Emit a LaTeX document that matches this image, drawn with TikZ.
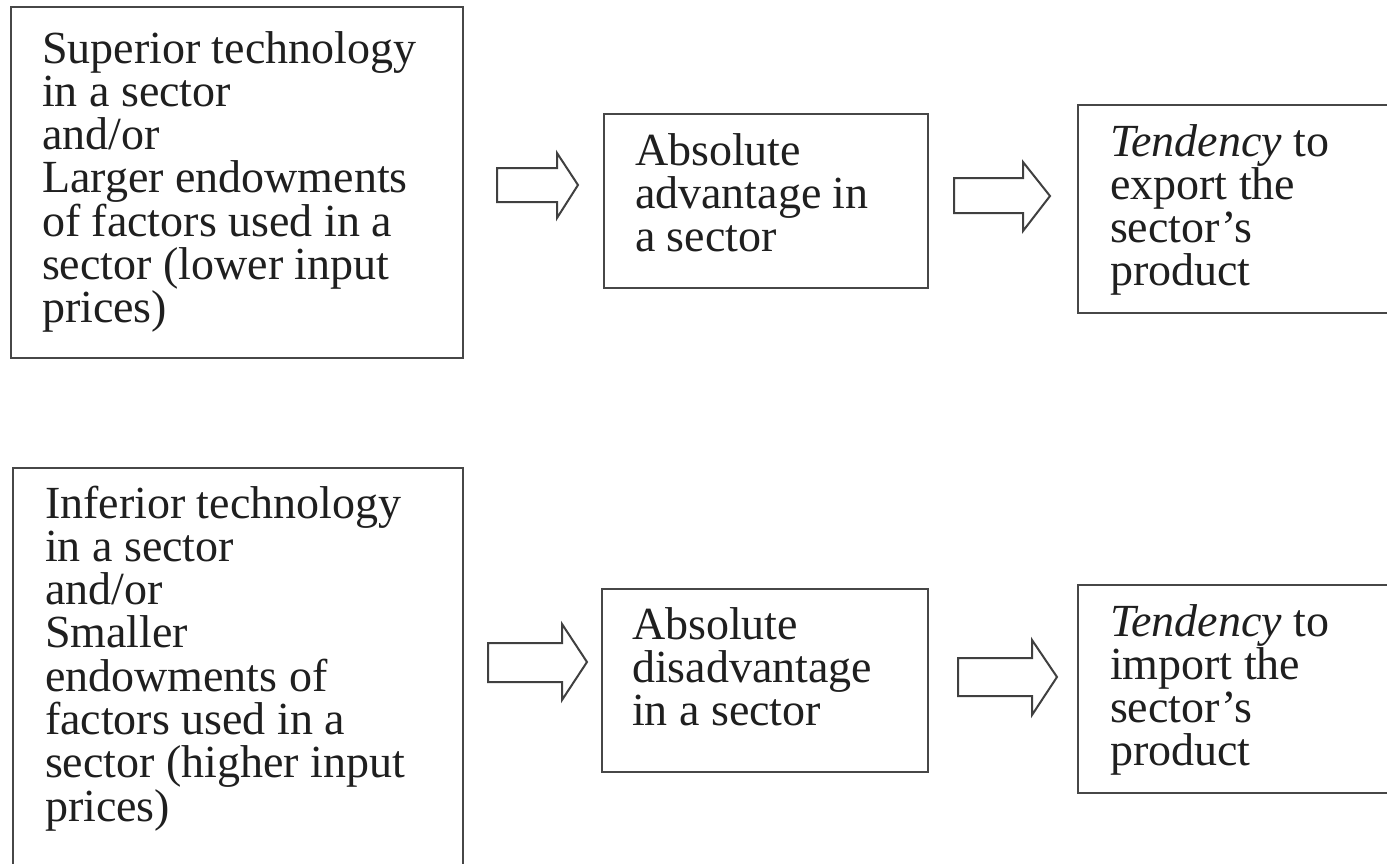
\documentclass[tikz,border=0pt]{standalone}
\usepackage{fontspec}
\setmainfont{Liberation Serif}
\newcommand{\boxtext}[1]{\parbox[t]{420pt}{\raggedright\fontsize{46}{43.3}\selectfont #1}}
\begin{document}
\begin{tikzpicture}[x=1pt,y=-1pt,
  box/.style={draw=black!72, line width=2.4pt, inner sep=0pt, outer sep=0pt},
  txt/.style={anchor=base west, inner sep=0pt, outer sep=0pt, text=black!88},
  blockarrow/.style={draw=black!75, line width=2pt, line join=miter}]
\useasboundingbox (0,0) rectangle (1387,863);
\clip (0,0) rectangle (1387,863);
\fill[white] (0,0) rectangle (1387,863);

% top row
\node[box, minimum width=452pt, minimum height=351pt] (sup) at (237,182.5) {};
\node[box, minimum width=324pt, minimum height=174pt] (absadv) at (766,201) {};
\node[box, minimum width=322pt, minimum height=208pt] (export) at (1239,209) {};

% bottom row
\node[box, minimum width=450pt, minimum height=432pt] (inf) at (238,684) {};
\node[box, minimum width=326pt, minimum height=183pt] (absdis) at (765,680.5) {};
\node[box, minimum width=322pt, minimum height=208pt] (import) at (1239,689) {};

% texts
\node[txt] (t1) at (42,63) {\boxtext{Superior technology\\in a sector\\and/or\\Larger endowments\\of factors used in a\\sector (lower input\\prices)}};
\node[txt] (t2) at (635,165) {\boxtext{Absolute\\advantage in\\a sector}};
\node[txt] (t3) at (1110,156) {\boxtext{\textit{Tendency} to\\export the\\sector's\\product}};

\node[txt] (t4) at (45,518) {\boxtext{Inferior technology\\in a sector\\and/or\\Smaller\\endowments of\\factors used in a\\sector (higher input\\prices)}};
\node[txt] (t5) at (632,639) {\boxtext{Absolute\\disadvantage\\in a sector}};
\node[txt] (t6) at (1110,636) {\boxtext{\textit{Tendency} to\\import the\\sector's\\product}};

% block arrows
\draw[blockarrow] (497,168) -- (557,168) -- (557,153) -- (578,185) -- (557,218) -- (557,202) -- (497,202) -- cycle;
\draw[blockarrow] (954,178) -- (1023,178) -- (1023,162) -- (1050,196) -- (1023,231) -- (1023,213) -- (954,213) -- cycle;
\draw[blockarrow] (488,643) -- (562,643) -- (562,624) -- (587,662) -- (562,700) -- (562,682) -- (488,682) -- cycle;
\draw[blockarrow] (958,658) -- (1032,658) -- (1032,640) -- (1057,677) -- (1032,715) -- (1032,696) -- (958,696) -- cycle;
\end{tikzpicture}
\end{document}
